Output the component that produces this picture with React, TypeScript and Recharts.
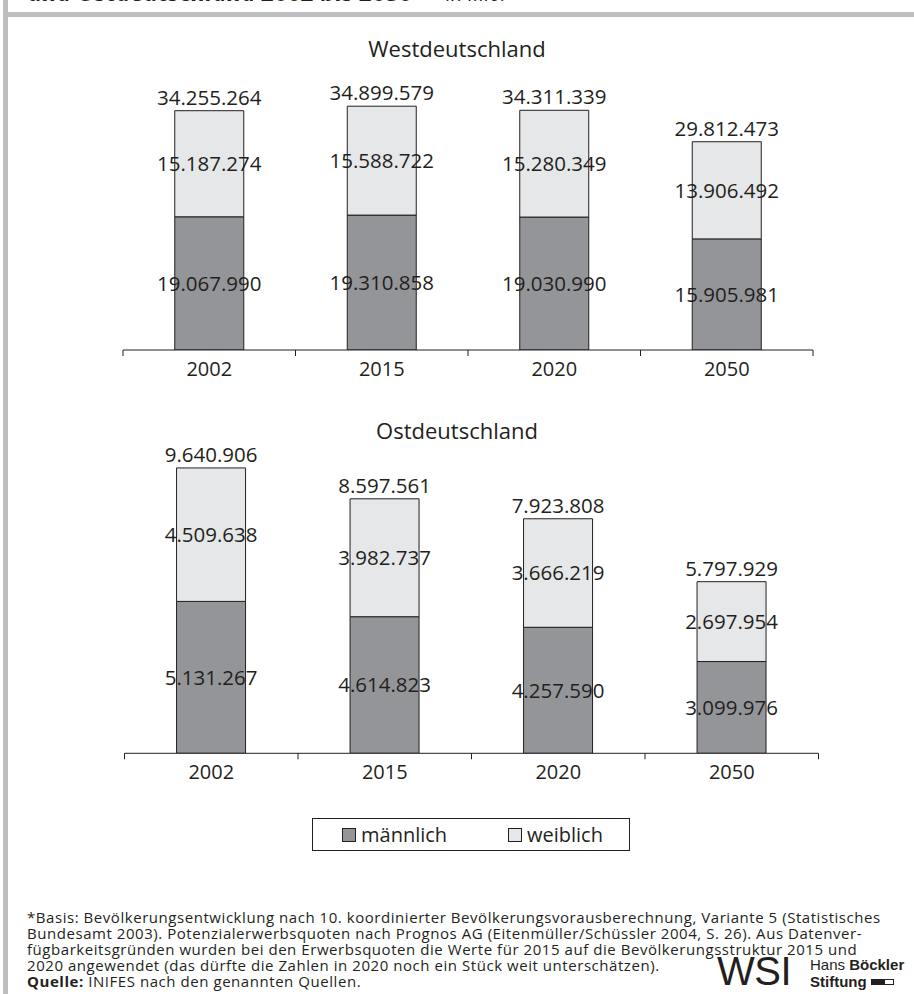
import React from 'react';
import { BarChart, Bar, XAxis, YAxis, LabelList } from 'recharts';

// Erwerbspersonenpotenzial nach Geschlecht (in Personen)
const years = ['2002', '2015', '2020', '2050'];
const westMale = [19067990, 19310858, 19030990, 15905981];
const westFemale = [15187274, 15588722, 15280349, 13906492];
const westTotal = [34255264, 34899579, 34311339, 29812473];
const eastMale = [5131267, 4614823, 4257590, 3099976];
const eastFemale = [4509638, 3982737, 3666219, 2697954];
const eastTotal = [9640906, 8597561, 7923808, 5797929];

const seriesNames = ['männlich', 'weiblich'];
const seriesColors = ['#939598', '#e6e7e8'];
const ink = '#231f20';

const footnoteLines = [
  '*Basis: Bevölkerungsentwicklung nach 10. koordinierter Bevölkerungsvorausberechnung, Variante 5 (Statistisches',
  'Bundesamt 2003). Potenzialerwerbsquoten nach Prognos AG (Eitenmüller/Schüssler 2004, S. 26). Aus Datenver-',
  'fügbarkeitsgründen wurden bei den Erwerbsquoten die Werte für 2015 auf die Bevölkerungsstruktur 2015 und',
  '2020 angewendet (das dürfte die Zahlen in 2020 noch ein Stück weit unterschätzen).',
];
const sourceLabel = 'Quelle:';
const sourceText = ' INIFES nach den genannten Quellen.';

const buildRows = (male: number[], female: number[], total: number[]) =>
  years.map((year, i) => ({ year, male: male[i], female: female[i], total: total[i] }));

const westRows = buildRows(westMale, westFemale, westTotal);
const eastRows = buildRows(eastMale, eastFemale, eastTotal);

const fmt = (v: any) => String(v).replace(/\B(?=(\d{3})+(?!\d))/g, '.');

const FONT = '"Open Sans", sans-serif';
const VALUE_SIZE = 20.5;

// Year labels centred in each band, tick marks on the band borders
function YearTick(props: any) {
  const { x, y, payload, index, visibleTicksCount } = props;
  const half = payload && typeof payload.offset === 'number' ? payload.offset : 0;
  const isLast = index === visibleTicksCount - 1;
  return (
    <g>
      <line x1={x - half} x2={x - half} y1={y} y2={y + 6} stroke={ink} strokeWidth={1} />
      {isLast && <line x1={x + half} x2={x + half} y1={y} y2={y + 6} stroke={ink} strokeWidth={1} />}
      <text x={x} y={y + 26} textAnchor="middle" fill={ink} fontSize={20} fontFamily={FONT}>
        {payload.value}
      </text>
    </g>
  );
}

type PanelProps = {
  rows: any[];
  top: number;
  height: number;
  marginTop: number;
  left: number;
  right: number;
  max: number;
};

function Panel({ rows, top, height, marginTop, left, right, max }: PanelProps) {
  return (
    <div style={{ position: 'absolute', left: 0, top, width: 914, height }}>
      <BarChart
        width={914}
        height={height}
        data={rows}
        margin={{ top: marginTop, left, right, bottom: 20 }}
        barCategoryGap="30%"
      >
        <XAxis
          dataKey="year"
          height={30}
          tickSize={0}
          tickMargin={0}
          tickLine={false}
          axisLine={{ stroke: ink, strokeWidth: 1 }}
          tick={<YearTick />}
          interval={0}
        />
        <YAxis hide width={0} domain={[0, max]} allowDataOverflow />
        <Bar dataKey="male" name={seriesNames[0]} stackId="s" fill={seriesColors[0]} stroke={ink} strokeWidth={1} isAnimationActive={false}>
          <LabelList dataKey="male" position="center" formatter={fmt} fill={ink} fontSize={VALUE_SIZE} fontFamily={FONT} />
        </Bar>
        <Bar dataKey="female" name={seriesNames[1]} stackId="s" fill={seriesColors[1]} stroke={ink} strokeWidth={1} isAnimationActive={false}>
          <LabelList dataKey="female" position="center" formatter={fmt} fill={ink} fontSize={VALUE_SIZE} fontFamily={FONT} />
          <LabelList dataKey="total" position="top" offset={6} formatter={fmt} fill={ink} fontSize={VALUE_SIZE} fontFamily={FONT} />
        </Bar>
      </BarChart>
    </div>
  );
}

export default function App() {
  return (
    <div
      style={{
        position: 'absolute',
        left: 0,
        top: 0,
        width: 914,
        height: 994,
        background: '#ffffff',
        overflow: 'hidden',
        fontFamily: FONT,
        color: ink,
      }}
    >
      {/* Heading (only its lower edge lies within the frame) */}
      <div
        style={{
          position: 'absolute',
          left: 28,
          top: -21,
          whiteSpace: 'nowrap',
          fontSize: 24,
          lineHeight: '26px',
          fontWeight: 700,
          fontStyle: 'italic',
        }}
      >
        und Ostdeutschland 2002 bis 2050*
        <span style={{ fontWeight: 400, fontSize: 20 }}> – in Mio.</span>
      </div>

      {/* Frame */}
      <div style={{ position: 'absolute', left: 3, top: 0, width: 5, height: 994, background: '#bcbec0' }} />
      <div style={{ position: 'absolute', left: 3, top: 12, width: 911, height: 5, background: '#bcbec0' }} />

      {/* Panel titles */}
      <div style={{ position: 'absolute', left: 0, width: 914, top: 33, textAlign: 'center', fontSize: 22, lineHeight: '30px' }}>
        Westdeutschland
      </div>
      <div style={{ position: 'absolute', left: 0, width: 914, top: 415, textAlign: 'center', fontSize: 22, lineHeight: '30px' }}>
        Ostdeutschland
      </div>

      <Panel rows={westRows} top={0} height={400} marginTop={98.5} left={123} right={101} max={36000000} />
      <Panel rows={eastRows} top={380} height={423.3} marginTop={77.3} left={124.5} right={95.5} max={10000000} />

      {/* Legend */}
      <div
        style={{
          position: 'absolute',
          left: 312,
          top: 818,
          width: 318,
          height: 33,
          boxSizing: 'border-box',
          border: `1px solid ${ink}`,
          fontSize: 20,
        }}
      >
        {seriesNames.map((name, i) => (
          <div
            key={name}
            style={{ position: 'absolute', left: i === 0 ? 29 : 195, top: 0, height: 31, display: 'flex', alignItems: 'center' }}
          >
            <span
              style={{
                display: 'inline-block',
                width: 14,
                height: 14,
                boxSizing: 'border-box',
                border: `1px solid ${ink}`,
                background: seriesColors[i],
                marginRight: 5,
              }}
            />
            <span style={{ lineHeight: '31px' }}>{name}</span>
          </div>
        ))}
      </div>

      {/* Footnote */}
      <div
        style={{
          position: 'absolute',
          left: 27,
          top: 909,
          fontSize: 15,
          letterSpacing: 0.55,
          lineHeight: '16px',
          whiteSpace: 'nowrap',
        }}
      >
        {footnoteLines.map((line) => (
          <div key={line} style={{ height: 16 }}>{line}</div>
        ))}
        <div style={{ height: 16 }}>
          <b>{sourceLabel}</b>
          {sourceText}
        </div>
      </div>

      {/* Publisher marks */}
      <div
        style={{
          position: 'absolute',
          left: 717,
          top: 948,
          fontFamily: '"Liberation Sans", Arial, sans-serif',
          fontSize: 40,
          lineHeight: '46px',
          letterSpacing: -0.5,
        }}
      >
        WSI
      </div>
      <div
        style={{
          position: 'absolute',
          left: 810,
          top: 956,
          fontFamily: '"Liberation Sans", Arial, sans-serif',
          fontSize: 15,
          lineHeight: '17px',
          whiteSpace: 'nowrap',
        }}
      >
        <div>
          Hans <b>Böckler</b>
        </div>
        <div style={{ display: 'flex', alignItems: 'center' }}>
          <b>Stiftung</b>
          <span style={{ display: 'inline-block', width: 13, height: 6, background: ink, marginLeft: 4 }} />
          <span style={{ display: 'inline-block', width: 10, height: 6, boxSizing: 'border-box', border: `1px solid ${ink}` }} />
        </div>
      </div>
    </div>
  );
}
